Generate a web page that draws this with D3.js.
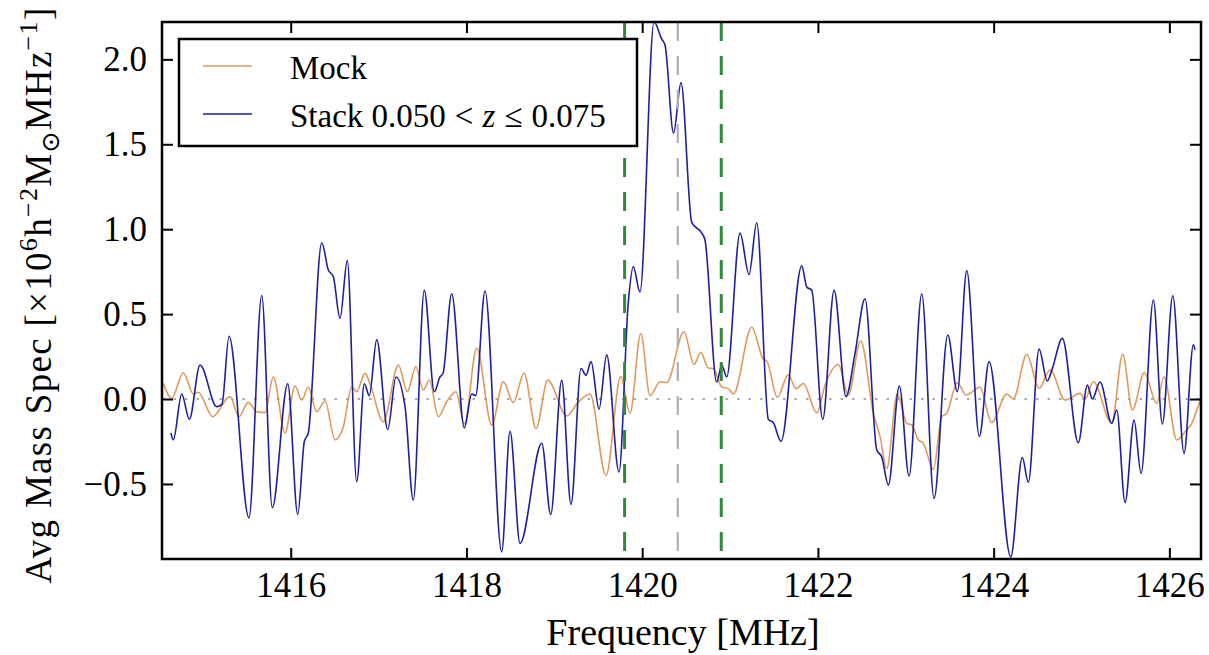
<!DOCTYPE html>
<html><head><meta charset="utf-8">
<script src="https://cdn.jsdelivr.net/npm/d3@7"></script>
<style>body{margin:0;background:#fff}svg{display:block}</style>
</head><body>
<svg id="c" width="1209" height="655"></svg>
<script>
// Stack 0.050 < z <= 0.075 (blue)
const stackFreq = [1414.637,1414.664,1414.759,1414.846,1414.968,1415.158,1415.218,1415.298,1415.525,1415.670,1415.790,1415.966,1416.080,1416.155,1416.200,1416.353,1416.428,1416.485,1416.561,1416.644,1416.751,1416.838,1416.894,1416.979,1417.104,1417.198,1417.301,1417.395,1417.520,1417.634,1417.699,1417.733,1417.832,1417.976,1418.060,1418.105,1418.211,1418.401,1418.496,1418.610,1418.857,1418.959,1419.084,1419.190,1419.304,1419.361,1419.418,1419.509,1419.596,1419.736,1419.842,1419.899,1419.975,1420.135,1420.222,1420.260,1420.357,1420.442,1420.564,1420.678,1420.715,1420.848,1420.905,1420.962,1421.114,1421.216,1421.304,1421.436,1421.493,1421.580,1421.816,1421.873,1421.930,1422.055,1422.184,1422.320,1422.423,1422.536,1422.670,1422.726,1422.802,1422.927,1423.037,1423.182,1423.322,1423.478,1423.587,1423.694,1423.837,1423.948,1424.195,1424.326,1424.395,1424.517,1424.611,1424.668,1424.782,1424.964,1425.067,1425.123,1425.211,1425.344,1425.401,1425.496,1425.598,1425.678,1425.818,1425.920,1426.039,1426.167,1426.273,1426.292];
const stackVal = [-0.20,-0.24,0.03,-0.12,0.20,-0.045,-0.03,0.37,-0.70,0.61,-0.64,0.09,-0.68,-0.25,-0.20,0.92,0.76,0.72,0.475,0.815,-0.487,0.09,0.02,0.35,-0.18,0.13,-0.045,-0.595,0.64,0.043,0.13,0.15,0.62,-0.17,0.03,0.02,0.636,-0.90,-0.19,-0.85,-0.26,-0.68,0.11,-0.62,0.18,0.14,0.22,-0.06,0.26,-0.43,0.57,0.78,0.63,2.22,2.12,2.085,1.566,1.863,1.04,0.977,0.936,0.10,0.20,0.13,0.977,0.733,1.038,-0.12,-0.14,-0.25,0.784,0.66,0.64,-0.12,0.64,0.014,0.27,0.59,-0.30,-0.34,-0.506,0.077,-0.453,0.62,-0.585,0.377,0.043,0.756,-0.22,0.22,-0.93,-0.344,-0.49,0.294,0.106,0.18,0.357,-0.257,0.082,0.0,0.10,-0.143,-0.065,-0.61,-0.124,-0.438,0.583,-0.147,0.608,-0.32,0.32,0.29];
// Mock (orange)
const mockFreq = [1414.550,1414.645,1414.777,1414.891,1414.948,1415.112,1415.309,1415.411,1415.517,1415.613,1415.707,1415.802,1415.935,1416.049,1416.125,1416.200,1416.296,1416.390,1416.504,1416.599,1416.694,1416.751,1416.846,1416.902,1417.054,1417.225,1417.327,1417.423,1417.509,1417.578,1417.680,1417.775,1417.881,1417.976,1418.117,1418.288,1418.420,1418.533,1418.655,1418.792,1418.925,1419.141,1419.270,1419.406,1419.588,1419.756,1419.862,1419.984,1420.089,1420.203,1420.279,1420.476,1420.590,1420.666,1420.753,1420.810,1420.905,1420.981,1421.038,1421.247,1421.379,1421.418,1421.538,1421.663,1421.751,1421.834,1421.987,1422.081,1422.233,1422.346,1422.487,1422.631,1422.707,1422.783,1422.904,1423.011,1423.068,1423.143,1423.200,1423.314,1423.409,1423.466,1423.587,1423.686,1423.845,1423.978,1424.149,1424.224,1424.377,1424.517,1424.642,1424.813,1424.984,1425.041,1425.135,1425.344,1425.469,1425.579,1425.715,1425.856,1425.939,1426.084,1426.178,1426.255,1426.361];
const mockVal = [0.092,0.004,0.155,0.03,0.04,-0.104,0.014,-0.104,-0.02,-0.075,-0.08,0.13,-0.20,0.077,-0.006,0.069,-0.075,-0.012,-0.24,-0.163,0.072,0.043,0.151,0.09,-0.134,0.20,0.043,0.19,0.053,0.112,-0.104,-0.016,0.043,-0.147,0.299,-0.153,0.101,-0.021,0.152,-0.174,0.111,-0.10,-0.02,0.03,-0.45,0.132,-0.083,0.386,0.02,0.10,0.097,0.396,0.203,0.274,0.183,0.18,0.071,0.061,0.03,0.423,0.234,0.224,0.01,0.142,0.061,0.091,-0.082,0.081,0.203,0.024,0.343,-0.084,-0.22,-0.41,0.03,-0.143,-0.153,-0.24,-0.26,-0.414,-0.104,-0.084,0.096,0.024,0.069,-0.139,0.03,0.0,0.263,0.063,0.171,-0.006,0.033,0.0,0.102,-0.143,0.263,-0.065,0.155,-0.026,0.131,-0.241,-0.193,-0.143,0.01];
const xTicks = [1416,1418,1420,1422,1424,1426];
const yTicks = [-0.5,0.0,0.5,1.0,1.5,2.0];
const vLinesGreen = [1419.80,1420.90];
const vLineGray = [1420.405];
const legendLabels = ["Mock","Stack"];

const L=162,R=1201,T=22,B=559;
const svg=d3.select("#c");
const x=d3.scaleLinear().domain([1414.535,1426.36]).range([L,R]);
const y=d3.scaleLinear().domain([-0.942,2.220]).range([B,T]);
const FONT="'Liberation Serif','Times New Roman',serif";

svg.append("clipPath").attr("id","clip").append("rect").attr("x",L).attr("y",T).attr("width",R-L).attr("height",B-T);
const g=svg.append("g").attr("clip-path","url(#clip)");

// zero dotted line
g.append("line").attr("x1",L).attr("x2",R).attr("y1",y(0)).attr("y2",y(0))
 .attr("stroke","#aaaaaa").attr("stroke-width",1.8).attr("stroke-dasharray","2.5,9");

const line=d3.line().x(d=>x(d[0])).y(d=>y(d[1])).curve(d3.curveMonotoneX);
g.append("path").datum(mockFreq.map((f,i)=>[f,mockVal[i]]))
 .attr("d",line).attr("fill","none").attr("stroke","#e09a5e").attr("stroke-width",1.6);
g.append("path").datum(stackFreq.map((f,i)=>[f,stackVal[i]]))
 .attr("d",line).attr("fill","none").attr("stroke","#1f1fa0").attr("stroke-width",1.6);

// vertical lines
g.selectAll(".vg").data(vLinesGreen).enter().append("line")
 .attr("x1",d=>x(d)).attr("x2",d=>x(d)).attr("y1",T).attr("y2",B)
 .attr("stroke","#2f8a3a").attr("stroke-width",3).attr("stroke-dasharray","19,15");
g.selectAll(".vy").data(vLineGray).enter().append("line")
 .attr("x1",d=>x(d)).attr("x2",d=>x(d)).attr("y1",T).attr("y2",B)
 .attr("stroke","#b0b0b0").attr("stroke-width",2.2).attr("stroke-dasharray","19,15");

// axes
const fmtY=d=>(d<0?"\u2212":"")+Math.abs(d).toFixed(1);
const ax=(a)=>{a.select(".domain").remove();a.selectAll(".tick line").attr("stroke","#000").attr("stroke-width",2);
  a.selectAll("text").attr("font-family",FONT).attr("font-size",35).attr("fill","#000");};
svg.append("g").attr("transform",`translate(0,${B})`).call(d3.axisBottom(x).tickValues(xTicks).tickSize(-11).tickPadding(13).tickFormat(d3.format("d"))).call(ax);
svg.append("g").attr("transform",`translate(0,${T})`).call(d3.axisTop(x).tickValues(xTicks).tickSize(-11).tickFormat("")).call(ax);
svg.append("g").attr("transform",`translate(${L},0)`).call(d3.axisLeft(y).tickValues(yTicks).tickSize(-11).tickPadding(15).tickFormat(fmtY)).call(ax);
svg.append("g").attr("transform",`translate(${R},0)`).call(d3.axisRight(y).tickValues(yTicks).tickSize(-11).tickFormat("")).call(ax);

svg.append("rect").attr("x",L).attr("y",T).attr("width",R-L).attr("height",B-T)
 .attr("fill","none").attr("stroke","#000").attr("stroke-width",2.5);

// axis labels
svg.append("text").attr("x",683).attr("y",645).attr("text-anchor","middle")
 .attr("font-family",FONT).attr("font-size",38).text("Frequency [MHz]");

const yl=svg.append("text").attr("transform","translate(51,295) rotate(-90)").attr("text-anchor","middle")
 .attr("font-family",FONT).attr("font-size",37).attr("letter-spacing",1.3);
yl.append("tspan").text("Avg Mass Spec [\u00d710");
yl.append("tspan").attr("dy",-14).attr("font-size",26).text("6");
yl.append("tspan").attr("dy",14).text("h");
yl.append("tspan").attr("dy",-14).attr("font-size",26).text("\u22122");
yl.append("tspan").attr("dy",14).text("M");
yl.append("tspan").attr("dy",8).attr("font-size",25).attr("font-family","'DejaVu Sans',sans-serif").text("\u2299");
yl.append("tspan").attr("dy",-8).text("MHz");
yl.append("tspan").attr("dy",-14).attr("font-size",26).text("\u22121");
yl.append("tspan").attr("dy",14).text("]");

// legend
const lg=svg.append("g");
lg.append("rect").attr("x",179).attr("y",39).attr("width",458).attr("height",107)
 .attr("fill","#fff").attr("stroke","#000").attr("stroke-width",2.5);
lg.append("line").attr("x1",203).attr("x2",252).attr("y1",66).attr("y2",66).attr("stroke","#e09a5e").attr("stroke-width",1.6);
lg.append("line").attr("x1",203).attr("x2",252).attr("y1",114).attr("y2",114).attr("stroke","#1f1fa0").attr("stroke-width",1.6);
lg.append("text").attr("x",290).attr("y",79).attr("font-family",FONT).attr("font-size",33).text(legendLabels[0]);
const t2=lg.append("text").attr("x",290).attr("y",127).attr("font-family",FONT).attr("font-size",33);
t2.append("tspan").text(legendLabels[1]+" 0.050");
t2.append("tspan").attr("dx",9).text("<");
t2.append("tspan").attr("dx",9).attr("font-style","italic").text("z");
t2.append("tspan").attr("dx",9).text("\u2264");
t2.append("tspan").attr("dx",9).text("0.075");
</script>
</body></html>
